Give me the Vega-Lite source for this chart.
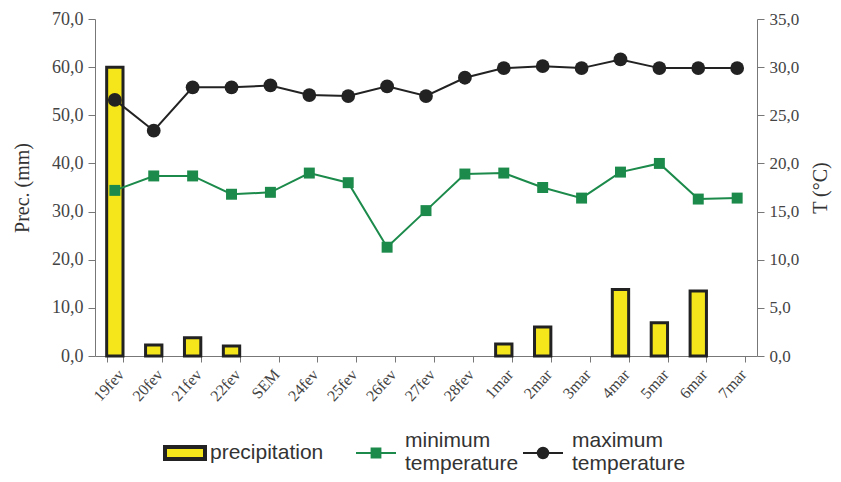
{
  "$schema": "https://vega.github.io/schema/vega-lite/v6.json",
  "width": 662,
  "height": 337,
  "autosize": {"type": "none"},
  "padding": {"left": 95, "top": 19, "right": 84, "bottom": 126},
  "background": "white",
  "config": {
    "view": {"stroke": null},
    "axis": {
      "labelFont": "Liberation Serif",
      "titleFont": "Liberation Serif",
      "labelFontSize": 17,
      "titleFontSize": 20,
      "titleFontWeight": "normal",
      "labelColor": "#444444",
      "titleColor": "#333333",
      "domainColor": "#777777",
      "tickColor": "#777777",
      "grid": false
    },
    "legend": {
      "title": null,
      "orient": "none",
      "direction": "horizontal",
      "symbolSize": 1600,
      "labelFont": "Liberation Sans",
      "labelFontSize": 21,
      "labelLineHeight": 24,
      "labelColor": "#333333",
      "labelLimit": 300,
      "labelOffset": 8,
      "columnPadding": 0
    }
  },
  "data": {
    "values": [
      {"day": "19fev", "prec": 60.0, "minimum temperature": 17.2, "maximum temperature": 26.6},
      {"day": "20fev", "prec": 2.3, "minimum temperature": 18.7, "maximum temperature": 23.4},
      {"day": "21fev", "prec": 3.8, "minimum temperature": 18.7, "maximum temperature": 27.9},
      {"day": "22fev", "prec": 2.1, "minimum temperature": 16.8, "maximum temperature": 27.9},
      {"day": "SEM", "prec": 0, "minimum temperature": 17.0, "maximum temperature": 28.1},
      {"day": "24fev", "prec": 0, "minimum temperature": 19.0, "maximum temperature": 27.1},
      {"day": "25fev", "prec": 0, "minimum temperature": 18.0, "maximum temperature": 27.0},
      {"day": "26fev", "prec": 0, "minimum temperature": 11.3, "maximum temperature": 28.0},
      {"day": "27fev", "prec": 0, "minimum temperature": 15.1, "maximum temperature": 27.0},
      {"day": "28fev", "prec": 0, "minimum temperature": 18.9, "maximum temperature": 28.9},
      {"day": "1mar", "prec": 2.5, "minimum temperature": 19.0, "maximum temperature": 29.9},
      {"day": "2mar", "prec": 6.0, "minimum temperature": 17.5, "maximum temperature": 30.1},
      {"day": "3mar", "prec": 0, "minimum temperature": 16.4, "maximum temperature": 29.9},
      {"day": "4mar", "prec": 13.8, "minimum temperature": 19.1, "maximum temperature": 30.8},
      {"day": "5mar", "prec": 6.9, "minimum temperature": 20.0, "maximum temperature": 29.9},
      {"day": "6mar", "prec": 13.5, "minimum temperature": 16.3, "maximum temperature": 29.9},
      {"day": "7mar", "prec": 0, "minimum temperature": 16.4, "maximum temperature": 29.9}
    ]
  },
  "encoding": {
    "x": {
      "field": "day",
      "type": "nominal",
      "sort": null,
      "scale": {
        "domain": ["19fev", "20fev", "21fev", "22fev", "SEM", "24fev", "25fev", "26fev", "27fev", "28fev", "1mar", "2mar", "3mar", "4mar", "5mar", "6mar", "7mar"],
        "paddingInner": 0.58,
        "paddingOuter": 0.3
      },
      "axis": {
        "title": null,
        "labelAngle": -48,
        "labelAlign": "right",
        "labelBaseline": "top",
        "labelFontSize": 16,
        "tickBand": "extent",
        "tickSize": 6,
        "labelPadding": 4
      }
    }
  },
  "layer": [
    {
      "transform": [{"filter": "datum.prec > 0"}],
      "mark": {"type": "bar", "strokeWidth": 3},
      "encoding": {
        "y": {
          "field": "prec",
          "type": "quantitative",
          "scale": {"domain": [0, 70], "nice": false},
          "axis": {
            "orient": "left",
            "title": "Prec. (mm)",
            "labelFontSize": 18,
            "values": [0, 10, 20, 30, 40, 50, 60, 70],
            "labelExpr": "replace(format(datum.value, '.1f'), '.', ',')",
            "titlePadding": 19,
            "tickSize": 7,
            "labelPadding": 5
          }
        },
        "fill": {
          "datum": "precipitation",
          "scale": {"domain": ["precipitation"], "range": ["#f5e61c"]},
          "legend": {
            "legendX": 68,
            "legendY": 412,
            "labelOffset": 3,
            "symbolType": "M-1,-0.3H1V0.3H-1Z",
            "symbolStrokeWidth": 4
          }
        },
        "stroke": {
          "datum": "precipitation",
          "scale": {"domain": ["precipitation"], "range": ["#222222"]},
          "legend": {
            "legendX": 68,
            "legendY": 412,
            "labelOffset": 3,
            "symbolType": "M-1,-0.3H1V0.3H-1Z",
            "symbolStrokeWidth": 4
          }
        }
      }
    },
    {
      "transform": [{"fold": ["minimum temperature", "maximum temperature"], "as": ["series", "temp"]}],
      "encoding": {
        "y": {
          "field": "temp",
          "type": "quantitative",
          "scale": {"domain": [0, 35], "nice": false},
          "axis": {
            "orient": "right",
            "title": "T (°C)",
            "titleAngle": 270,
            "values": [0, 5, 10, 15, 20, 25, 30, 35],
            "labelExpr": "replace(format(datum.value, '.1f'), '.', ',')",
            "titlePadding": 32,
            "tickSize": 7,
            "labelPadding": 5
          }
        },
        "color": {
          "field": "series",
          "type": "nominal",
          "scale": {"domain": ["minimum temperature", "maximum temperature"], "range": ["#1b8a4a", "#222222"]},
          "legend": {
            "legendX": 260,
            "legendY": 413,
            "labelExpr": "split(datum.label, ' ')",
            "encode": {
              "symbols": {
                "update": {
                  "shape": {"signal": "datum.value === 'minimum temperature' ? 'M-1,0H1M-0.22,-0.22H0.22V0.22H-0.22Z' : 'M-1,0H1M0.26,0A0.26,0.26 0 1,1 -0.26,0A0.26,0.26 0 1,1 0.26,0'"},
                  "strokeWidth": {"value": 2},
                  "opacity": {"value": 1}
                }
              },
              "labels": {
                "update": {
                  "dy": {"value": -12}
                }
              }
            }
          }
        }
      },
      "layer": [
        {
          "mark": {"type": "line", "strokeWidth": 2},
          "encoding": {"detail": {"field": "series"}}
        },
        {
          "transform": [{"filter": "datum.series === 'minimum temperature'"}],
          "mark": {"type": "point", "shape": "square", "size": 120, "filled": true, "opacity": 1}
        },
        {
          "transform": [{"filter": "datum.series === 'maximum temperature'"}],
          "mark": {"type": "point", "shape": "circle", "size": 190, "filled": true, "opacity": 1}
        }
      ]
    }
  ],
  "resolve": {"scale": {"y": "independent"}}
}
